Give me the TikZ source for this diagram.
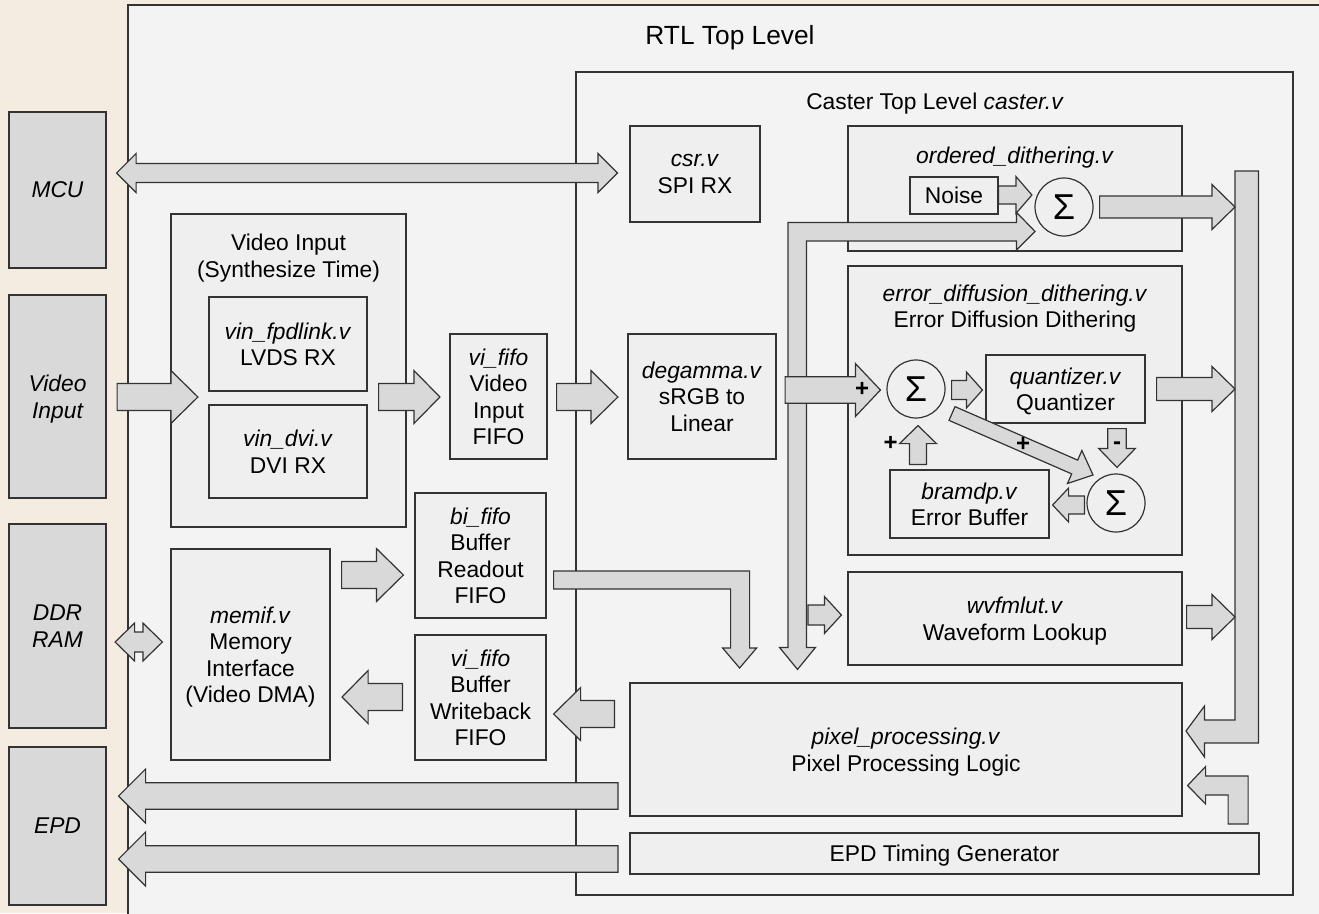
\documentclass[tikz,border=0pt]{standalone}
\usepackage{fontspec}
\setmainfont{Liberation Sans}
\usetikzlibrary{calc}

\definecolor{beige}{HTML}{F4ECE0}
\definecolor{rtlbg}{HTML}{F3F3F3}
\definecolor{blkbg}{HTML}{EFEFEF}
\definecolor{extbg}{HTML}{D9D9D9}
\definecolor{edge}{HTML}{333333}

\tikzset{
  every node/.style={font=\fontsize{22.8}{26.5}\selectfont, text depth=-3pt},
  wh/.style 2 args={minimum width=#1pt, minimum height=#2pt},
  blk/.style={draw=edge, fill=blkbg, line width=1.2pt, align=center, inner sep=0pt},
  ext/.style={blk, fill=extbg, font=\fontsize{22.8}{27}\selectfont\itshape},
  sum/.style={draw=edge, fill=blkbg, line width=1.2pt, circle, minimum size=58pt, inner sep=0pt,
    font=\fontsize{36}{36}\selectfont},
  fat/.style={draw=edge, fill=extbg, line width=1.2pt},
  lbl/.style={align=center, inner sep=0pt},
  sign/.style={inner sep=0pt, font=\fontsize{24}{24}\selectfont\bfseries},
}

% block arrow: {from}{to}{half shaft}{half head}{head length}
\newcommand\fatarrow[5]{%
  \coordinate (fa) at ($(#2)!#5pt!(#1)$);
  \draw[fat] ($(#1)!#3pt!90:(#2)$) -- ($(fa)!#3pt!90:(#2)$) -- ($(fa)!#4pt!90:(#2)$) -- (#2)
    -- ($(fa)!#4pt!-90:(#2)$) -- ($(fa)!#3pt!-90:(#2)$) -- ($(#1)!#3pt!-90:(#2)$) -- cycle;}
\newcommand\fatdarrow[5]{%
  \coordinate (fa) at ($(#1)!#5pt!(#2)$);
  \coordinate (fb) at ($(#2)!#5pt!(#1)$);
  \draw[fat] (#1) -- ($(fa)!#4pt!90:(#2)$) -- ($(fa)!#3pt!90:(#2)$) -- ($(fb)!#3pt!-90:(#1)$)
    -- ($(fb)!#4pt!-90:(#1)$) -- (#2) -- ($(fb)!#4pt!90:(#1)$) -- ($(fb)!#3pt!90:(#1)$)
    -- ($(fa)!#3pt!-90:(#2)$) -- ($(fa)!#4pt!-90:(#2)$) -- cycle;}

\begin{document}
\begin{tikzpicture}[x=1pt, y=-1pt]
  \useasboundingbox (0,0) rectangle (1319,913);
  \fill[beige] (0,0) rectangle (1319,913);
  \draw[draw=edge, fill=rtlbg, line width=1.2pt] (128,5) rectangle (1330,925);
  \node (rtlt) at (730,35) {\fontsize{26.3}{30}\selectfont RTL Top Level};

  % outside world
  \node[ext, wh={97}{156}] (mcu) at (57.5,190) {MCU};
  \node[ext, wh={97}{203}] (vin) at (57.5,396.5) {Video\\Input};
  \node[ext, wh={97}{204}] (ddr) at (57.5,626) {DDR\\RAM};
  \node[ext, wh={97}{158}] (epd) at (57.5,826) {EPD};

  % rtl top
  \node[blk, wh={235}{313}] (vgrp) at (288.5,370.5) {};
  \node[lbl] (vgrpt) at (288.5,255.5) {Video Input\\(Synthesize Time)};
  \node[blk, wh={158}{94}] (fpd) at (288,344) {\textit{vin\_fpdlink.v}\\LVDS RX};
  \node[blk, wh={158}{93}] (dvi) at (288,451.5) {\textit{vin\_dvi.v}\\DVI RX};
  \node[blk, wh={97}{125}] (vififo) at (498.5,396.5) {\textit{vi\_fifo}\\Video\\Input\\FIFO};
  \node[blk, wh={131}{125}] (bififo) at (480.5,555.5) {\textit{bi\_fifo}\\Buffer\\Readout\\FIFO};
  \node[blk, wh={131}{125}] (wbfifo) at (480.5,697.5) {\textit{vi\_fifo}\\Buffer\\Writeback\\FIFO};
  \node[blk, wh={159}{211}] (memif) at (250.5,654.5) {\textit{memif.v}\\Memory\\Interface\\(Video DMA)};

  % caster
  \node[blk, fill=rtlbg, wh={717}{823}] (caster) at (934.5,483.5) {};
  \node (castert) at (935,101) {Caster Top Level \textit{caster.v}};
  \node[blk, wh={130}{96}] (csr) at (695,174) {\textit{csr.v}\\SPI RX};
  \node[blk, wh={148}{125}] (degamma) at (702,396.5) {\textit{degamma.v}\\sRGB to\\Linear};
  \node[blk, wh={334}{125}] (ordered) at (1015,188.5) {};
  \node[lbl] (orderedt) at (1015,155) {\textit{ordered\_dithering.v}};
  \node[blk, wh={88}{37}] (noise) at (954,195.5) {Noise};
  \node[sum] (osum) at (1064,207) {Σ};
  \node[blk, wh={334}{289}] (errdiff) at (1015,410.5) {};
  \node[lbl] (errdifft) at (1015,306) {\textit{error\_diffusion\_dithering.v}\\Error Diffusion Dithering};
  \node[sum] (esum) at (916,389) {Σ};
  \node[blk, wh={159}{68}] (quant) at (1065.5,389) {\textit{quantizer.v}\\Quantizer};
  \node[blk, wh={159}{68}] (bramdp) at (969.5,504) {\textit{bramdp.v}\\Error Buffer};
  \node[sum] (dsum) at (1116,503) {Σ};
  \node[blk, wh={334}{93}] (wvfm) at (1015,618.5) {\textit{wvfmlut.v}\\Waveform Lookup};
  \node[blk, wh={552}{133}] (pixel) at (906,749.5) {\textit{pixel\_processing.v}\\Pixel Processing Logic};
  \node[blk, wh={629}{41}] (timing) at (944.5,853.5) {EPD Timing Generator};

  % arrow ends
  \coordinate (mcuo) at ($(mcu.east |- csr.west)+(10,-1)$);
  \coordinate (csri) at ($(csr.west)+(-12,-1)$);
  \coordinate (vino) at ($(vin.east)+(10.5,0.5)$);
  \coordinate (vgrpi) at ($(vgrp.west)+(27.5,26.5)$);
  \coordinate (vgrpo) at ($(vgrp.east)+(-28,26.5)$);
  \coordinate (vififoi) at ($(vififo.west)+(-9.5,0.5)$);
  \coordinate (vififoo) at ($(vififo.east)+(9,0.5)$);
  \coordinate (degammai) at ($(degamma.west)+(-9.5,0.5)$);
  \coordinate (degammao) at ($(degamma.east)+(8.5,-6.5)$);
  \coordinate (ddro) at ($(ddr.east)+(8.5,16)$);
  \coordinate (memifi) at ($(memif.west)+(-8,-12.5)$);
  \coordinate (memifo) at ($(memif.east)+(11,-79.5)$);
  \coordinate (memifw) at ($(memif.east)+(11.5,42.5)$);
  \coordinate (bififoi) at ($(bififo.west)+(-11,19.5)$);
  \coordinate (wbfifoo) at ($(wbfifo.west)+(-12,-0.5)$);
  \coordinate (wbfifoi) at ($(wbfifo.east)+(7,16.5)$);
  \coordinate (pixelw) at ($(pixel.west)+(-15,-35.5)$);
  \coordinate (pixelo) at ($(pixel.west)+(-11.5,46.5)$);
  \coordinate (timingo) at ($(timing.west)+(-11.5,5.5)$);
  \coordinate (epdi) at ($(epd.east)+(12,-30)$);
  \coordinate (epdt) at ($(epd.east)+(12,33)$);
  \coordinate (bus) at (1235,171);
  \coordinate (osumo) at ($(osum.east)+(6,0)$);
  \coordinate (quanto) at ($(quant.east)+(11,0)$);
  \coordinate (wvfmo) at ($(wvfm.east)+(4,-1.5)$);
  \coordinate (noiseo) at ($(noise.east)+(0,-0.5)$);
  \coordinate (osumi) at ($(osum.west)+(-2.5,-12)$);
  \coordinate (esumi) at ($(esum.west)+(-6,1)$);
  \coordinate (esumo) at ($(esum.east)+(6,1)$);
  \coordinate (quanti) at ($(quant.west)+(-3,1)$);
  \coordinate (esumb) at ($(esum.south)+(2,7)$);
  \coordinate (bramdpo) at ($(bramdp.north -| esum)+(2,-5)$);
  \coordinate (quantd) at ($(quant.south)+(51.5,5)$);
  \coordinate (dsumt) at ($(dsum.north)+(1,-6)$);
  \coordinate (dsumo) at ($(dsum.west)+(-2,2)$);
  \coordinate (bramdpi) at ($(bramdp.east)+(3,1)$);
  \coordinate (esumd) at ($(esum)+(36,24.5)$);
  \coordinate (dsumi) at ($(dsum)+(-23,-28)$);
  \coordinate (wvfmi) at ($(wvfm.west)+(-6,-3.5)$);
  \coordinate (buso) at ($(wvfm.west)+(-39.5,-3.5)$);

  % bent arrows
  \draw[fat] ($(bififo.east)+(7,15.5)$) -- ++(196,0) -- ++(0,77) -- ++(7,0) -- ++(-17,20)
    -- ++(-17,-20) -- ++(8,0) -- ++(0,-59) -- ++(-177,0) -- cycle;
  \draw[fat] ($(pixel.north)+(-108.5,-13)$) -- ++(-18,-22) -- ++(8.5,0) -- ++(0,-425)
    -- ++(228.5,0) -- ++(0,-10) -- ++(18.5,19) -- ++(-18.5,18.5) -- ++(0,-9) -- ++(-210,0)
    -- ++(0,406.5) -- ++(9,0) -- cycle;
  \draw[fat] (bus) -- ++(23.5,0) -- ++(0,572) -- ++(-54,0) -- ++(0,14) -- ++(-18.5,-26)
    -- ++(18.5,-25) -- ++(0,14) -- ++(30.5,0) -- cycle;
  \draw[fat] ($(pixel.east)+(45.5,74.5)$) -- ++(20,0) -- ++(0,-48) -- ++(-42.5,0) -- ++(0,-9.5)
    -- ++(-18,19) -- ++(18,18.5) -- ++(0,-9) -- ++(22.5,0) -- cycle;

  % straight arrows
  \fatdarrow{mcuo}{csri}{9.5}{19.5}{19.5}
  \fatdarrow{ddro}{memifi}{10}{19}{19.5}
  \fatarrow{vino}{vgrpi}{13.5}{26.5}{27}
  \fatarrow{vgrpo}{vififoi}{13.5}{26.5}{26}
  \fatarrow{vififoo}{degammai}{13.5}{26.5}{27}
  \fatarrow{memifo}{bififoi}{13.5}{26.5}{27}
  \fatarrow{wbfifoo}{memifw}{13.5}{26.5}{26}
  \fatarrow{pixelw}{wbfifoi}{13.5}{26.5}{27}
  \fatarrow{pixelo}{epdi}{13.3}{27}{27}
  \fatarrow{timingo}{epdt}{13.3}{27}{27}
  \fatarrow{degammao}{esumi}{13.3}{26.5}{25}
  \fatarrow{buso}{wvfmi}{10}{18.5}{17}
  \fatarrow{noiseo}{osumi}{9}{18.5}{16}
  \fatarrow{osumo}{bus |- osum}{11}{22.5}{23}
  \fatarrow{quanto}{bus |- quant}{11.5}{22.5}{23}
  \fatarrow{wvfmo}{bus |- wvfmo}{11.5}{22.5}{23}
  \fatarrow{esumo}{quanti}{9.5}{18}{16}
  \fatarrow{bramdpo}{esumb}{8.5}{18.5}{18}
  \fatarrow{quantd}{dsumt}{9.3}{18.4}{19}
  \fatarrow{dsumo}{bramdpi}{9}{17}{16}
  \fatarrow{esumd}{dsumi}{7.5}{18}{20}

  % signs
  \node[sign] (p1) at (862,389) {+};
  \node[sign] (p2) at (890.5,443) {+};
  \node[sign] (p3) at (1023,444) {+};
  \node[sign] (m1) at (1117,446) {-};
\end{tikzpicture}
\end{document}
